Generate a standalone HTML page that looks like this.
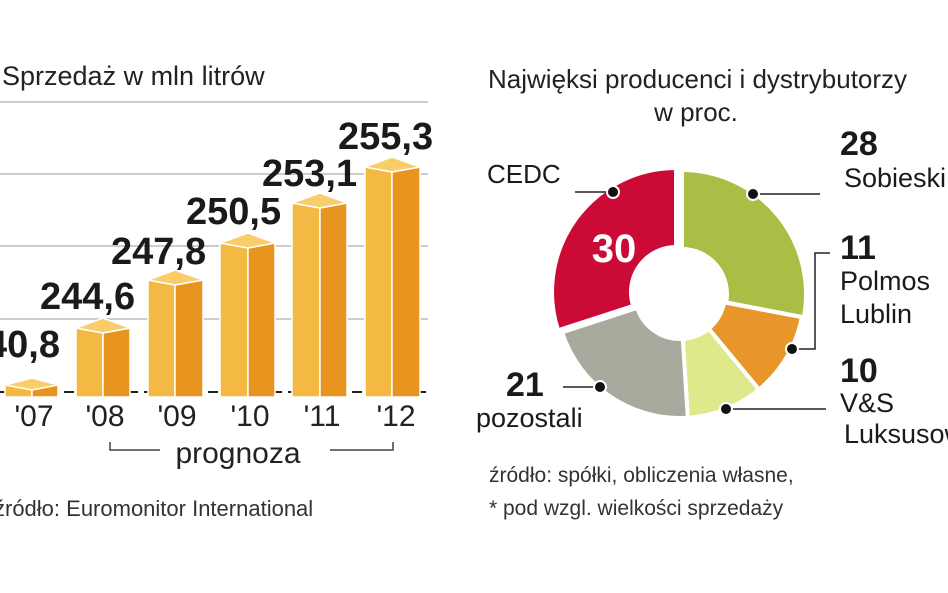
<!DOCTYPE html>
<html><head><meta charset="utf-8"><style>
html,body{margin:0;padding:0;background:#fff;}
svg{display:block;font-family:"Liberation Sans",sans-serif;}
</style></head><body>
<svg width="948" height="593" viewBox="0 0 948 593">
<rect width="948" height="593" fill="#fff"/>
<text x="2" y="85" font-size="27" fill="#222">Sprzedaż w mln litrów</text>
<g stroke="#bbb" stroke-width="1.5">
<line x1="0" y1="102" x2="428" y2="102"/>
<line x1="0" y1="174" x2="428" y2="174"/>
<line x1="0" y1="246" x2="428" y2="246"/>
<line x1="0" y1="319" x2="428" y2="319"/>
</g>
<line x1="0" y1="392" x2="430" y2="392" stroke="#222" stroke-width="2" stroke-dasharray="10,6"/>
<g stroke="#fff" stroke-width="1.5">
<polygon points="5,385 32,385 32,397 5,397" fill="#f4b942"/><polygon points="32,385 58,385 58,397 32,397" fill="#e8951f"/><polygon points="5,385 32,378 58,385 32,390" fill="#f8cd6a"/>
<polygon points="76,328 103,333 103,397 76,397" fill="#f4b942"/><polygon points="103,333 130,328 130,397 103,397" fill="#e8951f"/><polygon points="76,328 103,318 130,328 103,333" fill="#f8cd6a"/>
<polygon points="148,280 175,285 175,397 148,397" fill="#f4b942"/><polygon points="175,285 203,280 203,397 175,397" fill="#e8951f"/><polygon points="148,280 175,270 203,280 175,285" fill="#f8cd6a"/>
<polygon points="220,243 248,248 248,397 220,397" fill="#f4b942"/><polygon points="248,248 275,243 275,397 248,397" fill="#e8951f"/><polygon points="220,243 248,233 275,243 248,248" fill="#f8cd6a"/>
<polygon points="292,203 320,208 320,397 292,397" fill="#f4b942"/><polygon points="320,208 347,203 347,397 320,397" fill="#e8951f"/><polygon points="292,203 320,193 347,203 320,208" fill="#f8cd6a"/>
<polygon points="365,167 392,172 392,397 365,397" fill="#f4b942"/><polygon points="392,172 420,167 420,397 392,397" fill="#e8951f"/><polygon points="365,167 392,157 420,167 392,172" fill="#f8cd6a"/>
</g>
<g font-size="38" font-weight="bold" fill="#1a1a1a">
<text x="-14" y="357">40,8</text>
<text x="40" y="309">244,6</text>
<text x="111" y="264">247,8</text>
<text x="186" y="224">250,5</text>
<text x="262" y="186">253,1</text>
<text x="338" y="149">255,3</text>
</g>
<g font-size="30" fill="#222" text-anchor="middle">
<text x="34" y="426">'07</text><text x="105" y="426">'08</text><text x="177" y="426">'09</text><text x="250" y="426">'10</text><text x="322" y="426">'11</text><text x="396" y="426">'12</text>
<text x="238" y="463">prognoza</text>
</g>
<polyline points="110,442 110,450 160,450" fill="none" stroke="#444" stroke-width="1.5"/>
<polyline points="330,450 393,450 393,442" fill="none" stroke="#444" stroke-width="1.5"/>
<text x="-6" y="516" font-size="22" fill="#333">źródło: Euromonitor International</text>

<text x="488" y="88" font-size="26" fill="#222">Najwięksi producenci i dystrybutorzy</text>
<text x="696" y="121" font-size="26" fill="#222" text-anchor="middle">w proc.</text>
<g stroke="#fff" stroke-width="4">
<path d="M682,170 A124,124 0 0 1 803.8,317.2 L726.2,302.4 A45,45 0 0 0 682,249 Z" fill="#a9be45"/>
<path d="M801.8,317.2 A124,124 0 0 1 759,389.5 L708.7,328.7 A45,45 0 0 0 724.2,302.4 Z" fill="#e8952a"/>
<path d="M759,389.5 A124,124 0 0 1 687.8,417.8 L682.8,338.9 A45,45 0 0 0 708.7,328.7 Z" fill="#dde98a"/>
<path d="M687.8,417.8 A124,124 0 0 1 562.1,332.3 L637.2,307.9 A45,45 0 0 0 682.8,338.9 Z" fill="#a9a99d"/>
<path d="M558.1,330.3 A124,124 0 0 1 676,168 L676,247 A45,45 0 0 0 633.2,305.9 Z" fill="#cc0a36"/>
</g>
<text x="614" y="262" font-size="40" font-weight="bold" fill="#fff" text-anchor="middle">30</text>
<g stroke="#222" stroke-width="1.5" fill="none">
<line x1="575" y1="192" x2="613" y2="192"/>
<line x1="753" y1="194" x2="820" y2="194"/>
<polyline points="792,349 815,349 815,253 830,253"/>
<line x1="726" y1="409" x2="826" y2="409"/>
<line x1="563" y1="387" x2="600" y2="387"/>
</g>
<g fill="#111" stroke="#fff" stroke-width="2">
<circle cx="613" cy="192" r="6"/><circle cx="753" cy="194" r="6"/><circle cx="792" cy="349" r="6"/><circle cx="726" cy="409" r="6"/><circle cx="600" cy="387" r="6"/>
</g>
<g fill="#1a1a1a">
<text x="487" y="183" font-size="26">CEDC</text>
<text x="840" y="155" font-size="34" font-weight="bold">28</text>
<text x="844" y="187" font-size="27">Sobieski</text>
<text x="840" y="259" font-size="34" font-weight="bold">11</text>
<text x="840" y="290" font-size="27">Polmos</text>
<text x="840" y="323" font-size="27">Lublin</text>
<text x="840" y="382" font-size="34" font-weight="bold">10</text>
<text x="840" y="412" font-size="27">V&amp;S</text>
<text x="844" y="443" font-size="27">Luksusowa</text>
<text x="506" y="396" font-size="34" font-weight="bold">21</text>
<text x="476" y="427" font-size="27">pozostali</text>
</g>
<text x="489" y="482" font-size="21" fill="#333">źródło: spółki, obliczenia własne,</text>
<text x="489" y="515" font-size="21" fill="#333">* pod wzgl. wielkości sprzedaży</text>
</svg>
</body></html>
